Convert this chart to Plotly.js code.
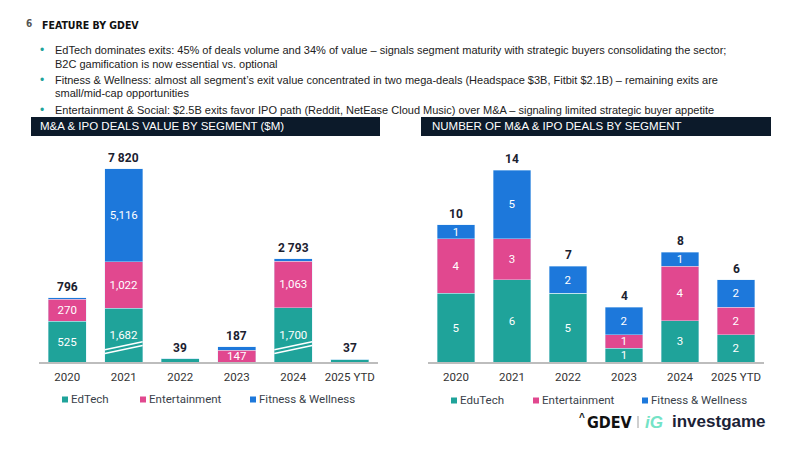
<!DOCTYPE html>
<html>
<head>
<meta charset="utf-8">
<script src="https://cdn.plot.ly/plotly-3.0.1.min.js"></script>
<style>
  html, body { margin: 0; padding: 0; background: #ffffff; }
  #chart { width: 800px; height: 450px; }
</style>
</head>
<body>
<div id="chart"></div>
<script>
// Exit deals by segment, 2020 – 2025 YTD
const years = ['2020', '2021', '2022', '2023', '2024', '2025 YTD'];

// Deal value, $M
const valueEdTech        = [525, 1682, 39, 0, 1700, 37];
const valueEntertainment = [270, 1022, 0, 147, 1063, 0];
const valueFitness       = [1, 5116, 0, 40, 30, 0];

// Number of deals
const countEduTech       = [5, 6, 5, 1, 3, 2];
const countEntertainment = [4, 3, 0, 1, 4, 2];
const countFitness       = [1, 5, 2, 2, 1, 2];

const segmentNames = ['EdTech', 'Entertainment', 'Fitness & Wellness'];
const countNames   = ['EduTech', 'Entertainment', 'Fitness & Wellness'];

const COLORS = ['#1fa39a', '#e1488f', '#1d78db'];
const NAVY = '#0c1a2a';
const CONDENSED = 'DejaVu Sans Condensed, Liberation Sans Narrow, DejaVu Sans';

// Value axis is broken: everything above BREAK_AT is drawn at a reduced rate
const BREAK_AT = 500, ABOVE_BREAK = 0.14, MIN_VISIBLE = 18;
function brokenScale(v) {
  if (v <= 0) return 0;
  const h = v <= BREAK_AT ? v : BREAK_AT + (v - BREAK_AT) * ABOVE_BREAK;
  return Math.max(h, MIN_VISIBLE);
}
const commaFmt = v => v.toLocaleString('en-US');
const spaceFmt = v => String(v).replace(/\B(?=(\d{3})+(?!\d))/g, ' ');

const valueSeries = [valueEdTech, valueEntertainment, valueFitness];
const countSeries = [countEduTech, countEntertainment, countFitness];

const insideText = { family: 'Roboto', size: 11.5, color: '#ffffff' };
const traces = [];

valueSeries.forEach((vals, k) => {
  traces.push({
    type: 'bar', name: segmentNames[k], x: years,
    y: vals.map(brokenScale),
    customdata: vals,
    text: vals.map(v => (v >= 100 ? commaFmt(v) : '')),
    textposition: 'inside', insidetextanchor: 'middle', textangle: 0,
    constraintext: 'none', textfont: insideText,
    marker: { color: COLORS[k], line: { color: 'rgba(215,235,250,0.7)', width: 0.6 } },
    xaxis: 'x', yaxis: 'y', showlegend: false, hoverinfo: 'skip'
  });
});

countSeries.forEach((vals, k) => {
  traces.push({
    type: 'bar', name: countNames[k], x: years, y: vals,
    text: vals.map(v => (v > 0 ? String(v) : '')),
    textposition: 'inside', insidetextanchor: 'middle', textangle: 0,
    constraintext: 'none', textfont: insideText,
    marker: { color: COLORS[k], line: { color: 'rgba(215,235,250,0.7)', width: 0.6 } },
    xaxis: 'x2', yaxis: 'y2', showlegend: false, hoverinfo: 'skip'
  });
});

const W = 800, H = 450;
const px = x => x / W;
const py = y => 1 - y / H;

const annotations = [];
const shapes = [];

// Totals above the stacks (x given as category index)
years.forEach((yr, i) => {
  const total = valueSeries.reduce((s, a) => s + a[i], 0);
  const top = valueSeries.reduce((s, a) => s + brokenScale(a[i]), 0);
  annotations.push({
    xref: 'x', yref: 'y', x: i, y: top, yanchor: 'bottom', yshift: 2,
    text: '<b>' + spaceFmt(total) + '</b>', showarrow: false,
    font: { family: 'Roboto', size: 12, color: '#1b2130' }
  });
  const n = countSeries.reduce((s, a) => s + a[i], 0);
  annotations.push({
    xref: 'x2', yref: 'y2', x: i, y: n, yanchor: 'bottom', yshift: 2,
    text: '<b>' + n + '</b>', showarrow: false,
    font: { family: 'Roboto', size: 12, color: '#1b2130' }
  });
  // break marks on the compressed EdTech segments
  if (valueEdTech[i] > 1000) {
    [[105, 205], [150, 250]].forEach(([a, b]) => {
      shapes.push({
        type: 'line', xref: 'x', yref: 'y',
        x0: i - 0.335, x1: i + 0.335, y0: a, y1: b,
        line: { color: '#ffffff', width: 1.5 }
      });
    });
  }
});

// Page header
annotations.push({
  xref: 'paper', yref: 'paper', x: px(24), y: py(23), xanchor: 'left', yanchor: 'middle',
  text: '<b>6</b>', showarrow: false, font: { family: CONDENSED, size: 10, color: '#555' }
});
annotations.push({
  xref: 'paper', yref: 'paper', x: px(40), y: py(25), xanchor: 'left', yanchor: 'middle',
  text: '<b>FEATURE BY GDEV</b>', showarrow: false,
  font: { family: CONDENSED, size: 10.5, color: '#111' }
});

// Key points
const bulletLines = [
  { y: 50,  dot: true,  t: 'EdTech dominates exits: 45% of deals volume and 34% of value – signals segment maturity with strategic buyers consolidating the sector;' },
  { y: 64,  dot: false, t: 'B2C gamification is now essential vs. optional' },
  { y: 80,  dot: true,  t: 'Fitness & Wellness: almost all segment’s exit value concentrated in two mega-deals (Headspace $3B, Fitbit $2.1B) – remaining exits are' },
  { y: 93,  dot: false, t: 'small/mid-cap opportunities' },
  { y: 110, dot: true,  t: 'Entertainment & Social: $2.5B exits favor IPO path (Reddit, NetEase Cloud Music) over M&A – signaling limited strategic buyer appetite' }
];
bulletLines.forEach(b => {
  if (b.dot) {
    annotations.push({
      xref: 'paper', yref: 'paper', x: px(41.5), y: py(b.y), xanchor: 'center', yanchor: 'middle',
      text: '•', showarrow: false, font: { family: 'Liberation Sans', size: 12, color: COLORS[0] }
    });
  }
  annotations.push({
    xref: 'paper', yref: 'paper', x: px(53), y: py(b.y), xanchor: 'left', yanchor: 'middle',
    text: b.t, showarrow: false, font: { family: 'Liberation Sans', size: 11, color: '#222' }
  });
});

// Section headers
[[31, 380, 38, 'M&A & IPO DEALS VALUE BY SEGMENT ($M)'],
 [421, 771, 430, 'NUMBER OF M&A & IPO DEALS BY SEGMENT']].forEach(([x0, x1, tx, label]) => {
  shapes.push({
    type: 'rect', xref: 'paper', yref: 'paper', x0: px(x0), x1: px(x1), y0: py(136), y1: py(117),
    fillcolor: NAVY, line: { width: 0 }
  });
  annotations.push({
    xref: 'paper', yref: 'paper', x: px(tx), y: py(126.5), xanchor: 'left', yanchor: 'middle',
    text: label, showarrow: false, font: { family: 'Liberation Sans', size: 11.5, color: '#ffffff' }
  });
});

// Legends
function legendRow(names, xs, y) {
  names.forEach((nm, k) => {
    shapes.push({
      type: 'rect', xref: 'paper', yref: 'paper',
      x0: px(xs[k]), x1: px(xs[k] + 6), y0: py(y + 3.5), y1: py(y - 2.5),
      fillcolor: COLORS[k], line: { width: 0 }
    });
    annotations.push({
      xref: 'paper', yref: 'paper', x: px(xs[k] + 7), y: py(y), xanchor: 'left', yanchor: 'middle',
      text: nm, showarrow: false, font: { family: 'Roboto', size: 11.5, color: '#3a3f4a' }
    });
  });
}
legendRow(segmentNames, [62, 140, 250], 399);
legendRow(countNames, [451, 533, 642], 400);

// Footer brand marks
annotations.push({
  xref: 'paper', yref: 'paper', x: px(582), y: py(417), xanchor: 'center', yanchor: 'middle',
  text: '<b>^</b>', showarrow: false, font: { family: 'Liberation Sans', size: 10, color: '#111' }
});
annotations.push({
  xref: 'paper', yref: 'paper', x: px(585), y: py(422), xanchor: 'left', yanchor: 'middle',
  text: '<b>GDEV</b>', showarrow: false, font: { family: CONDENSED, size: 16, color: '#111' }
});
shapes.push({
  type: 'line', xref: 'paper', yref: 'paper', x0: px(638), x1: px(638), y0: py(428), y1: py(416),
  line: { color: '#bfbfbf', width: 1.5 }
});
annotations.push({
  xref: 'paper', yref: 'paper', x: px(643), y: py(422), xanchor: 'left', yanchor: 'middle',
  text: '<b><i>iG</i></b>', showarrow: false, font: { family: 'Liberation Sans', size: 17, color: '#74e3c6' }
});
annotations.push({
  xref: 'paper', yref: 'paper', x: px(670), y: py(421), xanchor: 'left', yanchor: 'middle',
  text: '<b>investgame</b>', showarrow: false, font: { family: 'Liberation Sans', size: 17, color: '#1b2236' }
});

const baseAxis = {
  type: 'category', categoryorder: 'array', categoryarray: years,
  range: [-0.5, 5.5], autorange: false,
  showline: true, linecolor: '#bdbdbd', linewidth: 2,
  ticks: '', ticklabelstandoff: 3, showgrid: false, zeroline: false, fixedrange: true,
  tickfont: { family: 'Roboto', size: 11.5, color: '#333' }
};
const plotTop = 140, plotBase = 362;
const layout = {
  width: W, height: H,
  margin: { l: 0, r: 0, t: 0, b: 0 },
  paper_bgcolor: '#ffffff', plot_bgcolor: '#ffffff',
  barmode: 'stack', bargap: 0.33,
  font: { family: 'Roboto' },
  showlegend: false,
  xaxis: Object.assign({}, baseAxis, { domain: [px(39), px(378)], anchor: 'y' }),
  yaxis: { domain: [py(plotBase), py(plotTop)], range: [0, 2741], autorange: false, visible: false, fixedrange: true },
  xaxis2: Object.assign({}, baseAxis, { domain: [px(428), px(764)], anchor: 'y2' }),
  yaxis2: { domain: [py(plotBase), py(plotTop)], range: [0, 16.2], autorange: false, visible: false, fixedrange: true },
  annotations: annotations,
  shapes: shapes
};

Plotly.newPlot('chart', traces, layout, { displayModeBar: false, staticPlot: true });
</script>
</body>
</html>
